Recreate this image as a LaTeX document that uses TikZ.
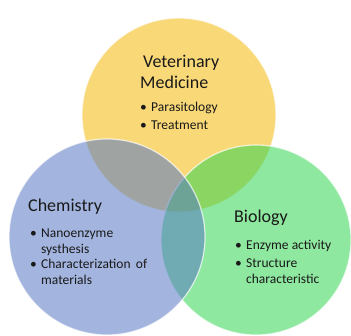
\documentclass[tikz,border=0pt]{standalone}
\usepackage{fontspec}
\setmainfont{Carlito}
\usepackage{array}

\definecolor{vetcolor}{RGB}{244,184,9}
\definecolor{biocolor}{RGB}{49,213,82}
\definecolor{chemcolor}{RGB}{87,120,196}

\newcommand{\titlefont}{\fontsize{18}{21}\selectfont}
\newcommand{\listfont}{\fontsize{13.5}{15.5}\selectfont\hyphenpenalty=10000\exhyphenpenalty=10000\hbadness=10000}

\begin{document}
\begin{tikzpicture}[x=1pt, y=1pt, every node/.style={inner sep=0pt, text=black!90}]

% Define styles for the diagram
\tikzstyle{field} = [circle, fill opacity=0.55, draw=white, draw opacity=0.7, line width=1.2pt]
\tikzstyle{heading} = [anchor=base west, font=\titlefont]
\tikzstyle{points} = [anchor=base west, font=\listfont]

\useasboundingbox (0,0) rectangle (351,336);

% Circles
\node (vet) [field, fill=vetcolor, minimum size=194pt] at (179,221) {};
\node (bio) [field, fill=biocolor, minimum size=190pt] at (256,96) {};
\node (chem) [field, fill=chemcolor, minimum size=196pt] at (107,99) {};

% Texts
\node (vettitle) [heading] at (140,268) {\begin{tabular}[t]{@{}l@{}}\,Veterinary\\Medicine\end{tabular}};
\node (vetlist) [points] at (140,224) {\begin{tabular}[t]{@{}p{11pt}@{}p{100pt}@{}}
\textbullet & Parasitology\\[2.5pt]
\textbullet & Treatment
\end{tabular}};

\node (chemtitle) [heading] at (28,124) {Chemistry};
\node (chemlist) [points] at (30,98) {\begin{tabular}[t]{@{}p{11pt}@{}p{106pt}@{}}
\textbullet & Nanoenzyme systhesis\\[2.5pt]
\textbullet & Characterization of materials
\end{tabular}};

\node (biotitle) [heading] at (234,113) {Biology};
\node (biolist) [points] at (235,86) {\begin{tabular}[t]{@{}p{11pt}@{}p{88pt}@{}}
\textbullet & Enzyme activity\\[2.5pt]
\textbullet & Structure characteristic
\end{tabular}};

\end{tikzpicture}
\end{document}
